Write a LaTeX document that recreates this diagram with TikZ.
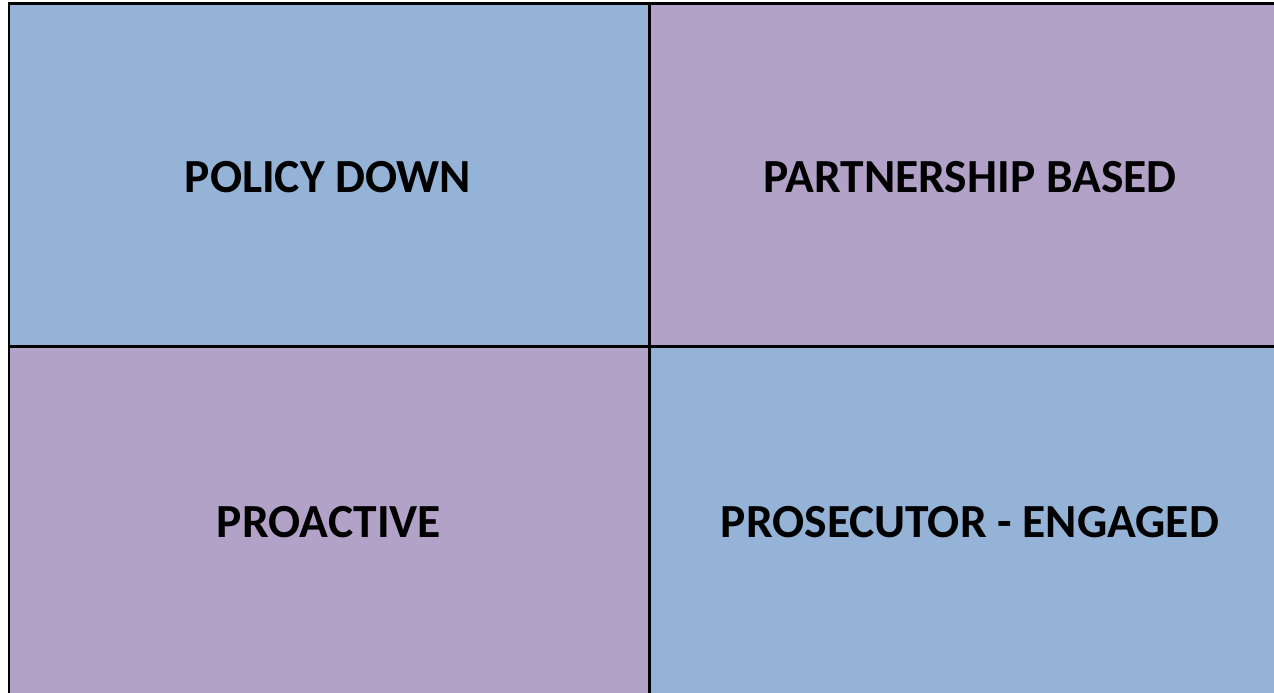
\documentclass[tikz,border=0pt]{standalone}
\usepackage{fontspec}
\setmainfont{Carlito}
\definecolor{cblue}{HTML}{95B3D7}
\definecolor{cpurple}{HTML}{B3A2C7}
\begin{document}
\begin{tikzpicture}[x=1pt,y=-1pt,
  cell/.style={draw=black,line width=2.2pt},
  lbl/.style={font=\fontsize{47.5}{57}\selectfont\bfseries,text=black}]
\useasboundingbox (0,0) rectangle (1274,693);
\fill[white] (0,0) rectangle (1274,693);
\clip (0,0) rectangle (1274,693);
\fill[cblue] (9.3,3.5) rectangle (649.5,346.5);
\fill[cpurple] (649.5,3.5) rectangle (1292,346.5);
\fill[cpurple] (9.3,346.5) rectangle (649.5,700);
\fill[cblue] (649.5,346.5) rectangle (1292,700);
\draw[cell] (9.3,700) -- (9.3,3.5) -- (1292,3.5);
\draw[cell] (649.5,3.5) -- (649.5,700);
\draw[cell] (9.3,346.5) -- (1292,346.5);
\node[lbl] (a) at (328,177.5) {POLICY DOWN};
\node[lbl] (b) at (970,177.5) {PARTNERSHIP BASED};
\node[lbl] (c) at (329,522) {PROACTIVE};
\node[lbl] (d) at (970,522) {PROSECUTOR - ENGAGED};
\end{tikzpicture}
\end{document}
